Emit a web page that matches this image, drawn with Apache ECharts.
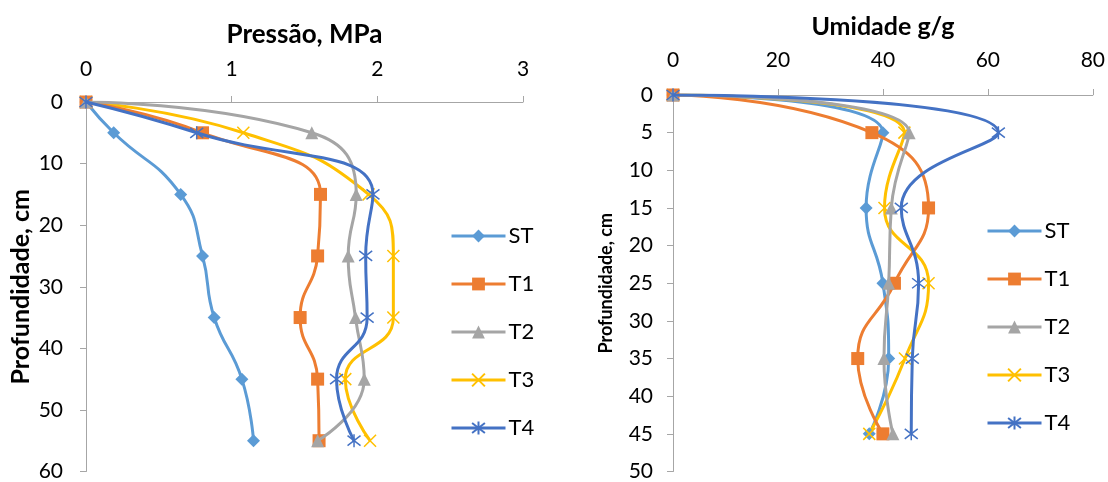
<!DOCTYPE html>
<html>
<head>
<meta charset="utf-8">
<script src="https://cdn.jsdelivr.net/npm/echarts@6/dist/echarts.min.js"></script>
<style>html,body{margin:0;padding:0;background:#fff}#c{width:1108px;height:482px}</style>
</head>
<body>
<div id="c"></div>
<script>
const seriesNames = ['ST', 'T1', 'T2', 'T3', 'T4'];
const colors = ['#5B9BD5', '#ED7D31', '#A5A5A5', '#FFC000', '#4472C4'];

// Left chart: Pressão, MPa vs depth
const depthP = [0, 5, 15, 25, 35, 45, 55];
const pST = [0, 0.19, 0.65, 0.80, 0.88, 1.07, 1.15];
const pT1 = [0, 0.80, 1.61, 1.59, 1.47, 1.59, 1.60];
const pT2 = [0, 1.55, 1.855, 1.80, 1.85, 1.91, 1.59];
const pT3 = [0, 1.08, 1.94, 2.11, 2.11, 1.78, 1.95];
const pT4 = [0, 0.76, 1.97, 1.92, 1.93, 1.72, 1.84];

// Right chart: Umidade g/g vs depth
const depthU = [0, 5, 15, 25, 35, 45];
const uST = [0, 40.0, 36.8, 40.0, 41.1, 37.4];
const uT1 = [0, 37.9, 48.7, 42.2, 35.2, 40.0];
const uT2 = [0, 45.0, 41.6, 41.1, 40.2, 41.9];
const uT3 = [0, 44.1, 40.3, 48.7, 44.2, 37.4];
const uT4 = [0, 62.0, 43.5, 46.8, 45.6, 45.4];

const pTicks = {min: 0, max: 3, interval: 1};
const pDepthTicks = {min: 0, max: 60, interval: 10};
const uTicks = {min: 0, max: 80, interval: 20};
const uDepthTicks = {min: 0, max: 50, interval: 5};

const symbols = [
  'diamond',
  'rect',
  'triangle',
  'path://M0,0L10,10M10,0L0,10',
  'path://M0,0L10,10M10,0L0,10M5,-1.5L5,11.5'
];
const symbolSizes = [13, 13, 13, 12, 13];

const FONT = 'Lato';
const axisColor = '#A6A6A6';

function mk(xs, ds, i, gi) {
  return {
    name: seriesNames[i],
    type: 'line',
    xAxisIndex: gi, yAxisIndex: gi,
    data: xs.map((v, k) => [v, ds[k]]),
    smooth: 0.5,
    symbol: symbols[i],
    symbolSize: symbolSizes[i],
    showAllSymbol: true,
    lineStyle: {color: colors[i], width: 3},
    itemStyle: {color: colors[i], borderColor: colors[i], borderWidth: i >= 3 ? 1.5 : 0},
    emphasis: {disabled: true},
    z: 2 + (i === 3 ? 0 : i)
  };
}

function xAx(t, name, gi, gap, nsize, lm) {
  return {
    type: 'value', gridIndex: gi, position: 'top',
    min: t.min, max: t.max, interval: t.interval,
    name: name, nameLocation: 'middle', nameGap: gap,
    nameTextStyle: {fontFamily: FONT, fontWeight: 'bold', fontSize: nsize, color: '#000'},
    axisLine: {show: true, lineStyle: {color: axisColor, width: 1}},
    axisTick: {show: true, length: 6, lineStyle: {color: axisColor}},
    axisLabel: {fontFamily: FONT, fontSize: 21, color: '#000', margin: lm},
    splitLine: {show: false}
  };
}
function yAx(t, gi, gap, nsize, lm) {
  return {
    type: 'value', gridIndex: gi, inverse: true,
    min: t.min, max: t.max, interval: t.interval,
    name: 'Profundidade, cm', nameLocation: 'middle', nameGap: gap, nameRotate: 90,
    nameTextStyle: {fontFamily: FONT, fontWeight: 'bold', fontSize: nsize, color: '#000'},
    axisLine: {show: true, lineStyle: {color: axisColor, width: 1}},
    axisTick: {show: true, length: 6, lineStyle: {color: axisColor}},
    axisLabel: {fontFamily: FONT, fontSize: 21, color: '#000', margin: lm},
    splitLine: {show: false}
  };
}

function legend(left, top) {
  return {
    orient: 'vertical', left: left, top: top,
    itemWidth: 54, itemHeight: 16, itemGap: 26,
    lineStyle: {width: 3},
    textStyle: {fontFamily: FONT, fontSize: 22, color: '#000', padding: [0, 0, 0, -2]},
    data: seriesNames,
    selectedMode: false
  };
}

const chart = echarts.init(document.getElementById('c'), null, {renderer: 'canvas'});
chart.setOption({
  animation: false,
  backgroundColor: '#fff',
  color: colors,
  grid: [
    {left: 86, top: 102, width: 437, height: 373},
    {left: 673, top: 95, width: 420, height: 380}
  ],
  xAxis: [xAx(pTicks, 'Pressão, MPa', 0, 54, 26, 22), xAx(uTicks, 'Umidade g/g', 1, 56, 25, 24)],
  yAxis: [yAx(pDepthTicks, 0, 53, 25, 23), yAx(uDepthTicks, 1, 58, 18, 20)],
  legend: [legend(445, 220), legend(981, 215)],
  series: [
    mk(pST, depthP, 0, 0), mk(pT1, depthP, 1, 0), mk(pT2, depthP, 2, 0), mk(pT3, depthP, 3, 0), mk(pT4, depthP, 4, 0),
    mk(uST, depthU, 0, 1), mk(uT1, depthU, 1, 1), mk(uT2, depthU, 2, 1), mk(uT3, depthU, 3, 1), mk(uT4, depthU, 4, 1)
  ]
});
</script>
</body>
</html>
